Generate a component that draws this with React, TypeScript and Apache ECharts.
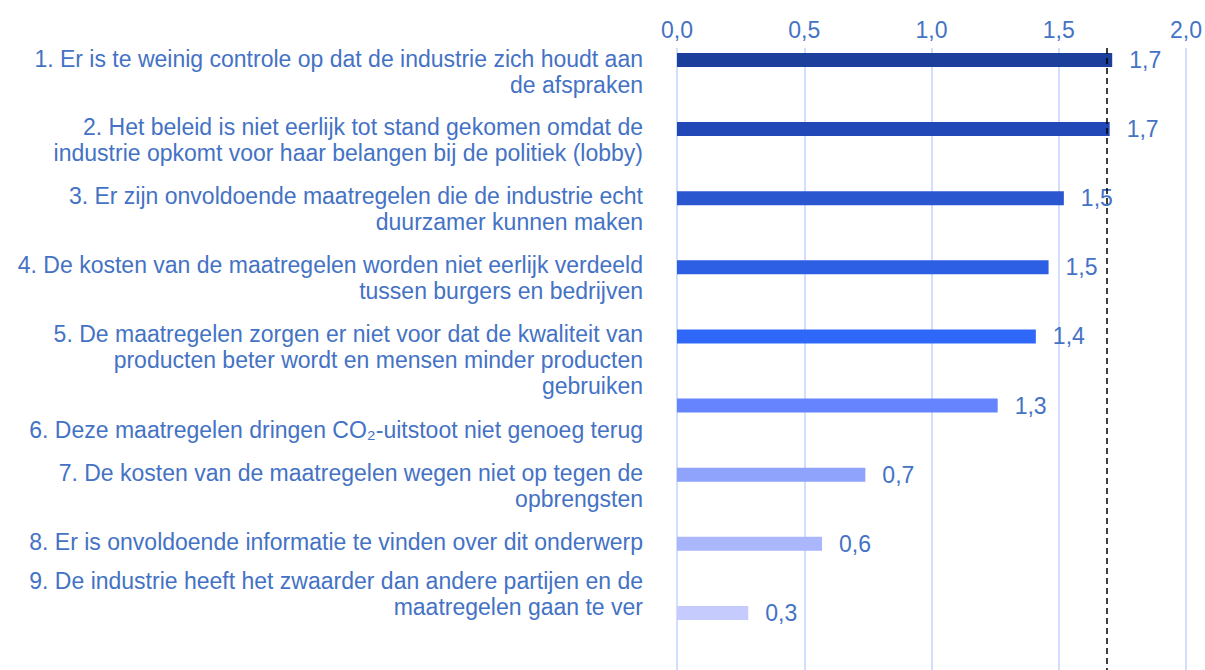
import React, { useEffect, useRef } from "react";
import * as echarts from "echarts";

const categories: string[] = [
  "1. Er is te weinig controle op dat de industrie zich houdt aan\nde afspraken",
  "2. Het beleid is niet eerlijk tot stand gekomen omdat de\nindustrie opkomt voor haar belangen bij de politiek (lobby)",
  "3. Er zijn onvoldoende maatregelen die de industrie echt\nduurzamer kunnen maken",
  "4. De kosten van de maatregelen worden niet eerlijk verdeeld\ntussen burgers en bedrijven",
  "5. De maatregelen zorgen er niet voor dat de kwaliteit van\nproducten beter wordt en mensen minder producten\ngebruiken",
  "6. Deze maatregelen dringen CO\u2082-uitstoot niet genoeg terug",
  "7. De kosten van de maatregelen wegen niet op tegen de\nopbrengsten",
  "8. Er is onvoldoende informatie te vinden over dit onderwerp",
  "9. De industrie heeft het zwaarder dan andere partijen en de\nmaatregelen gaan te ver",
];

const values: number[] = [1.71, 1.7, 1.52, 1.46, 1.41, 1.26, 0.74, 0.57, 0.28];

const referenceValue = 1.69;

const xMin = 0;
const xMax = 2;
const xInterval = 0.5;

const barColors: string[] = [
  "#1c3f9c",
  "#2247b6",
  "#2a56d0",
  "#2c5fe3",
  "#2f68f8",
  "#6584fd",
  "#8fa3fc",
  "#abb7fc",
  "#c5cbfd",
];

// vertical shift of each category label, in text lines
const labelLineShift: number[] = [0.05, 0, 0, 0, 0, 1, 0, 0, -1.15];

const FONT = "'Liberation Sans', Arial, sans-serif";
const TEXT_COLOR = "#4472c4";

const fmt = (v: number) => v.toFixed(1).replace(".", ",");

export default function App() {
  const ref = useRef<HTMLDivElement>(null);

  useEffect(() => {
    document.body.style.margin = "0";
    if (!ref.current) return;
    const chart = echarts.init(ref.current, null, { renderer: "svg" });

    const gridTop = 48;
    const gridHeight = 622;
    const barWidth = 14;
    const topGap = 5;
    const bandHeight = gridHeight / categories.length;
    const empty = categories.map(() => null);

    chart.setOption({
      animation: false,
      textStyle: { fontFamily: FONT },
      grid: { left: 677, right: 17, top: gridTop, height: gridHeight, containLabel: false },
      xAxis: {
        type: "value",
        position: "top",
        min: xMin,
        max: xMax,
        interval: xInterval,
        axisLine: { show: false },
        axisTick: { show: false },
        axisLabel: {
          formatter: (v: number) => fmt(v),
          fontSize: 23,
          color: TEXT_COLOR,
          fontFamily: FONT,
          margin: 7,
        },
        splitLine: { show: true, lineStyle: { color: "#c2d3fd", width: 1.5 } },
      },
      yAxis: {
        type: "category",
        inverse: true,
        data: categories,
        axisLine: { show: false },
        axisTick: { show: false },
        axisLabel: { show: false },
        splitLine: { show: false },
      },
      series: [
        {
          type: "bar",
          name: "spacerTop",
          silent: true,
          barWidth: topGap,
          barGap: "0%",
          data: empty,
          itemStyle: { color: "transparent" },
        },
        {
          type: "bar",
          name: "score",
          barWidth,
          barGap: "0%",
          data: values.map((v, i) => ({
            value: v,
            itemStyle: { color: barColors[i] },
          })),
          label: {
            show: true,
            position: "right",
            distance: 17,
            formatter: (p: any) => fmt(p.value),
            fontSize: 23,
            color: TEXT_COLOR,
            fontFamily: FONT,
          },
          markLine: {
            silent: true,
            symbol: ["none", "none"],
            label: { show: false },
            lineStyle: { color: "#000000", type: [6, 4], width: 1.5 },
            data: [{ xAxis: referenceValue }],
          },
        },
        {
          type: "bar",
          name: "spacerBottom",
          silent: true,
          barWidth: bandHeight - barWidth - topGap,
          barGap: "0%",
          data: empty,
          itemStyle: { color: "transparent" },
        },
      ],
    });

    const c0 = chart.convertToPixel({ yAxisIndex: 0 }, 0) as number;
    const c1 = chart.convertToPixel({ yAxisIndex: 0 }, 1) as number;
    const band = c1 - c0;

    const texts = categories.map((cat, i) => {
      const bandCenter = chart.convertToPixel({ yAxisIndex: 0 }, i) as number;
      const barCenter = bandCenter - band / 2 + topGap + barWidth / 2;
      return {
        type: "text",
        x: 643,
        y: barCenter - 15 + labelLineShift[i] * 26,
        style: {
          text: cat,
          align: "right",
          verticalAlign: "top",
          fontSize: 23,
          lineHeight: 26,
          fontFamily: FONT,
          fill: TEXT_COLOR,
        },
      };
    });

    chart.setOption({ graphic: { elements: texts } });

    return () => chart.dispose();
  }, []);

  return <div ref={ref} style={{ width: 1205, height: 670 }} />;
}
